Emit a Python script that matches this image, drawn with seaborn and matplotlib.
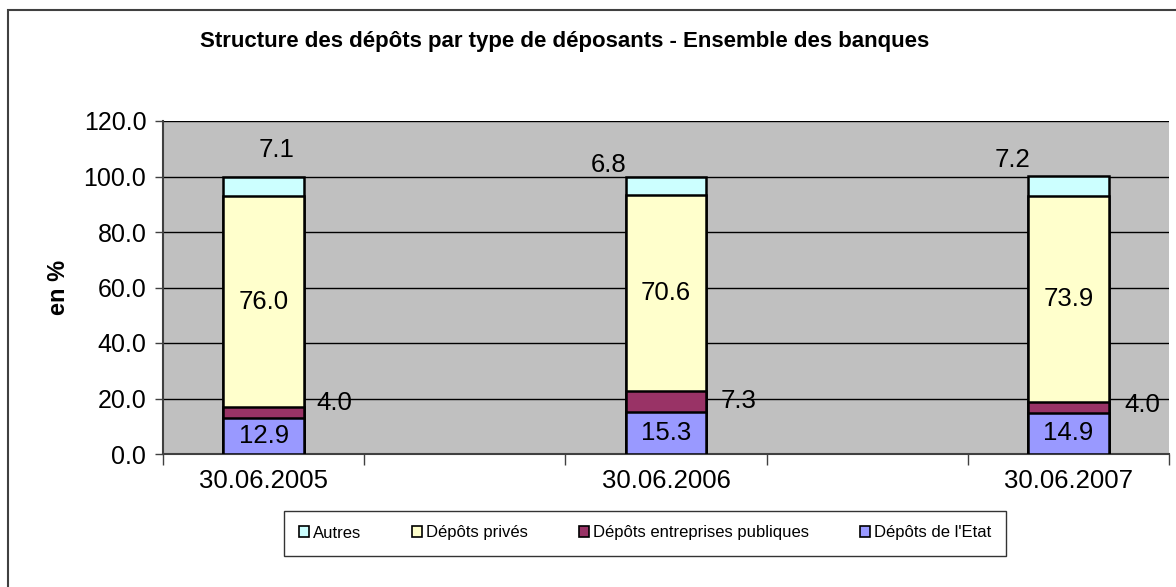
import numpy as np
import pandas as pd
import matplotlib
matplotlib.use("Agg")
import matplotlib.pyplot as plt
from matplotlib.patches import Patch, Rectangle
import seaborn as sns

# ---- data ----
dates = ["30.06.2005", "30.06.2006", "30.06.2007"]
etat = [12.9, 15.3, 14.9]
entreprises = [4.0, 7.3, 4.0]
prives = [76.0, 70.6, 73.9]
autres = [7.1, 6.8, 7.2]
series_names = ["Dépôts de l'Etat", "Dépôts entreprises publiques", "Dépôts privés", "Autres"]
yticks = [0, 20, 40, 60, 80, 100, 120]

# ---- style ----
sns.set_theme(style="white")
plt.rcParams['font.family'] = ['Liberation Sans', 'DejaVu Sans']
plt.rcParams['text.color'] = 'black'
plt.rcParams['xtick.color'] = 'black'
plt.rcParams['ytick.color'] = 'black'
plt.rcParams['axes.labelcolor'] = 'black'

colors = {
    "Dépôts de l'Etat": "#9999FF",
    "Dépôts entreprises publiques": "#993366",
    "Dépôts privés": "#FFFFCC",
    "Autres": "#CCFFFF",
}

df = pd.DataFrame({
    "date": dates,
    series_names[0]: etat,
    series_names[1]: entreprises,
    series_names[2]: prives,
    series_names[3]: autres,
})
cum = df[series_names].cumsum(axis=1)
cum["date"] = df["date"]

# category order with empty slots between dates
order = [dates[0], "gap1", dates[1], "gap2", dates[2]]

fig = plt.figure(figsize=(11.76, 5.87), dpi=100)
ax = fig.add_axes([163/1176, 1-454/587, (1169-163)/1176, (454-121)/587])
ax.set_facecolor("#C0C0C0")

# draw stacked bars from top-most cumulative down
for name in reversed(series_names):
    sns.barplot(data=cum, x="date", y=name, order=order, color=colors[name],
                width=0.4, edgecolor="black", linewidth=1.8, errorbar=None,
                saturation=1, ax=ax, zorder=3)

ax.set_ylim(0, 120)
ax.set_xlim(-0.5, 4.5)
ax.set_yticks(yticks)
ax.set_yticklabels([f"{v:.1f}" for v in yticks], fontsize=18)
ax.yaxis.grid(True, color="black", linewidth=1.0, zorder=0)
ax.set_axisbelow(True)

# x ticks: marks at category boundaries, labels at bar centers
pos = [order.index(d) for d in dates]
ax.set_xticks(np.arange(-0.5, 5.0, 1.0))
ax.set_xticklabels([])
ax.set_xticks(pos, minor=True)
ax.set_xticklabels(dates, minor=True, fontsize=18.5)
ax.tick_params(axis="x", which="major", direction="out", length=8, width=1, color="#404040", bottom=True)
ax.tick_params(axis="x", which="minor", length=0, pad=11)
ax.tick_params(axis="y", direction="out", length=6, width=1, color="#404040", left=True, pad=6)

for s in ["top", "right"]:
    ax.spines[s].set_visible(False)
for s in ["left", "bottom"]:
    ax.spines[s].set_color("#404040")
    ax.spines[s].set_linewidth(1.5)

ax.set_xlabel("")
ax.set_ylabel("en %", fontsize=17, fontweight="bold", labelpad=10)

# ---- value labels ----
# pixel offsets (dx, dy) for outside labels
offsets = {
    "Autres": [(13, 36), (-57, 21), (-56, 26)],
    "Dépôts entreprises publiques": [(71, 10), (73, 0), (74, 2)],
}
for i, d in enumerate(dates):
    x = pos[i]
    bottom = 0.0
    for name in series_names:
        v = df.loc[i, name]
        mid = bottom + v / 2
        if name in offsets:
            dx, dy = offsets[name][i]
        else:
            dx, dy = 0, 0
        ax.annotate(f"{v:.1f}", (x, mid), xytext=(dx, dy), textcoords="offset pixels",
                    ha="center", va="center", fontsize=18.5, color="black", zorder=5)
        bottom += v

# ---- title ----
fig.text(565/1176, 1-42/587, "Structure des dépôts par type de déposants - Ensemble des banques",
         ha="center", va="center", fontsize=16, fontweight="bold")

# ---- legend ----
leg_order = ["Autres", "Dépôts privés", "Dépôts entreprises publiques", "Dépôts de l'Etat"]
handles = [Patch(facecolor=colors[n], edgecolor="black", linewidth=1.2, label=n) for n in leg_order]
leg = fig.legend(handles=handles, loc="center", bbox_to_anchor=(645/1176, 1-533/587), ncol=4,
                 fontsize=12, frameon=True, fancybox=False, shadow=False,
                 handlelength=0.6, handleheight=0.6, handletextpad=0.2, columnspacing=3.1,
                 borderpad=0.9, borderaxespad=0)
leg.get_frame().set_edgecolor("black")
leg.get_frame().set_linewidth(1.0)

# ---- outer chart border ----
fig.patches.append(Rectangle((8/1176, -0.1), 1.2, 1.1 - 10/587, transform=fig.transFigure,
                             fill=False, edgecolor="#404040", linewidth=1.5))

fig.savefig("out.png", dpi=100)
